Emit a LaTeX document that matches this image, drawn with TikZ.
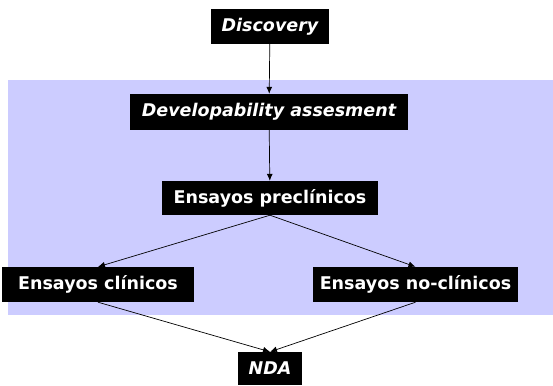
\documentclass[tikz,border=0pt]{standalone}
\usepackage{fontspec}
\setmainfont{DejaVu Sans}
\usepackage{xcolor}
\usetikzlibrary{arrows.meta,positioning,calc}
\definecolor{phaselavender}{RGB}{204, 204, 255}

\begin{document}
\begin{tikzpicture}[x=1pt, y=-1pt, >={Latex[length=7pt,width=6pt]},
    stagebox/.style={fill=black, text=white, inner sep=0pt, align=center, font=\fontsize{17.5}{20}\selectfont\bfseries},
    stageit/.style={stagebox, font=\fontsize{17.5}{20}\selectfont\bfseries\itshape}]
            \useasboundingbox (0,0) rectangle (553,385);
            % Shaded development phase
            \fill[phaselavender] (8,80) rectangle (553,315);

            % Nodes placed top to bottom
            \node [stageit, minimum width=118pt, minimum height=35pt] (disc) at (270,26.5) {Discovery};
            \node [stageit, minimum width=278pt, minimum height=36pt] (dev) at (269,112) {Developability assesment};
            \node [stagebox, minimum width=216pt, minimum height=34pt] (pre) at (270,198) {Ensayos preclínicos};
            \node [stagebox, minimum width=192pt, minimum height=35pt] (cli) at (98,284.5) {Ensayos clínicos};
            \node [stagebox, minimum width=205pt, minimum height=35pt] (nocli) at (415.5,284.5) {Ensayos no-clínicos};
            \node [stageit, minimum width=64pt, minimum height=33pt] (nda) at (270,368.5) {NDA};

            % Edges
            \draw[->, line width=0.7pt] (disc) -- (dev);
            \draw[->, line width=0.7pt] (dev) -- (pre);
            \draw[->, line width=0.7pt] (pre.south) -- (cli.north);
            \draw[->, line width=0.7pt] (pre.south) -- (nocli.north);
            \draw[->, line width=0.7pt] (cli.south) -- (nda.north);
            \draw[->, line width=0.7pt] (nocli.south) -- (nda.north);
        \end{tikzpicture}
\end{document}
